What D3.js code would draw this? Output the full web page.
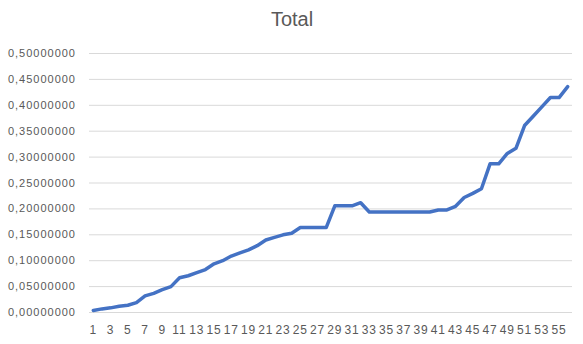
<!DOCTYPE html>
<html>
<head>
<meta charset="utf-8">
<script src="https://cdn.jsdelivr.net/npm/d3@7"></script>
<style>
  body { margin: 0; background: #fff; }
  text { font-family: "Liberation Sans", Arial, sans-serif; fill: #595959; }
</style>
</head>
<body>
<div id="graphic"></div>
<script>
const WIDTH = 583;
const HEIGHT = 344;
const X_LEFT = 89;
const X_RIGHT = 572;
const Y_TOP = 53;
const Y_BOTTOM = 312;
const TITLE = "Total";

// categories 1..56
const CATEGORIES = ["1","2","3","4","5","6","7","8","9","10","11","12","13","14","15","16","17","18","19","20",
  "21","22","23","24","25","26","27","28","29","30","31","32","33","34","35","36","37","38","39","40",
  "41","42","43","44","45","46","47","48","49","50","51","52","53","54","55","56"];
const VALUES = [0.003, 0.006, 0.008, 0.011, 0.013, 0.018, 0.031, 0.036, 0.043, 0.049,
  0.066, 0.070, 0.076, 0.082, 0.093, 0.099, 0.108, 0.114, 0.120, 0.128,
  0.139, 0.144, 0.149, 0.152, 0.163, 0.163, 0.163, 0.163, 0.205, 0.205,
  0.205, 0.211, 0.193, 0.193, 0.193, 0.193, 0.193, 0.193, 0.193, 0.193,
  0.197, 0.197, 0.204, 0.221, 0.229, 0.238, 0.286, 0.286, 0.306, 0.316,
  0.360, 0.378, 0.396, 0.414, 0.414, 0.435];
const Y_TICKS = [0, 0.05, 0.1, 0.15, 0.2, 0.25, 0.3, 0.35, 0.4, 0.45, 0.5];

var svg = d3.select("#graphic")
  .append("svg")
  .attr("width", WIDTH)
  .attr("height", HEIGHT);

var xScale = d3.scaleBand()
  .domain(CATEGORIES)
  .range([X_LEFT, X_RIGHT]);

var yScale = d3.scaleLinear()
  .domain([0, 0.5])
  .range([Y_BOTTOM, Y_TOP]);

var formatTick = d => d.toFixed(8).replace(".", ",");

// title
svg.append("text")
  .attr("x", 292)
  .attr("y", 26)
  .attr("text-anchor", "middle")
  .style("font-size", "20px")
  .text(TITLE);

// y axis with gridlines
var yAxis = svg.append("g")
  .attr("transform", `translate(${X_LEFT}, 0)`)
  .call(d3.axisLeft(yScale)
    .tickValues(Y_TICKS)
    .tickFormat(formatTick)
    .tickSize(-(X_RIGHT - X_LEFT))
    .tickPadding(13));
yAxis.select(".domain").remove();
yAxis.selectAll(".tick line").attr("stroke", "#d9d9d9");
yAxis.selectAll(".tick text")
  .style("font-size", "11px")
  .style("letter-spacing", "1px")
  .attr("fill", "#595959");

// x axis, every other label
var xAxis = svg.append("g")
  .attr("transform", `translate(0, ${Y_BOTTOM})`)
  .call(d3.axisBottom(xScale)
    .tickValues(CATEGORIES.filter((d, i) => i % 2 == 0))
    .tickSize(0)
    .tickPadding(13));
xAxis.select(".domain").remove();
xAxis.selectAll(".tick text")
  .style("font-size", "12px")
  .style("letter-spacing", "1px")
  .attr("fill", "#595959");

var line = d3.line()
  .x((d, i) => xScale(CATEGORIES[i]) + xScale.bandwidth() / 2)
  .y(d => yScale(d));

svg.append("path")
  .datum(VALUES)
  .attr("fill", "none")
  .attr("stroke", "#4472C4")
  .attr("stroke-width", 3.5)
  .attr("stroke-linejoin", "round")
  .attr("stroke-linecap", "round")
  .attr("d", line);
</script>
</body>
</html>
